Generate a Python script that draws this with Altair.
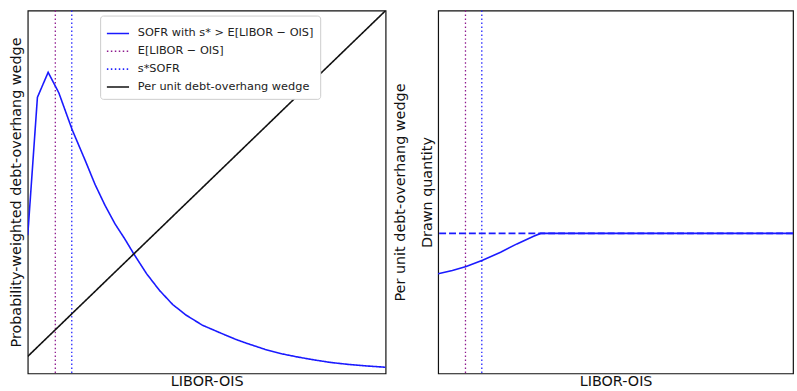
import altair as alt
import pandas as pd

# Normalised LIBOR-OIS grid (no tick labels are shown on either panel)
sofr_x = [0.0, 0.027, 0.057, 0.087, 0.124, 0.161, 0.188, 0.216, 0.244, 0.271,
          0.296, 0.332, 0.368, 0.405, 0.442, 0.488, 0.535, 0.581, 0.618, 0.664,
          0.710, 0.756, 0.802, 0.848, 0.895, 0.942, 1.0]
sofr_y = [0.381, 0.761, 0.830, 0.773, 0.672, 0.586, 0.521, 0.463, 0.412, 0.371,
          0.330, 0.275, 0.229, 0.190, 0.161, 0.133, 0.113, 0.094, 0.081, 0.066,
          0.054, 0.045, 0.037, 0.030, 0.025, 0.021, 0.017]

wedge_x = [0.0, 1.0]
wedge_y = [0.047, 1.0]

expected_spread = 0.077   # E[LIBOR - OIS]
s_star_sofr = 0.123       # s*_SOFR

drawn_x = [0.0, 0.040, 0.079, 0.125, 0.176, 0.222, 0.269, 0.289, 1.0]
drawn_y = [0.275, 0.284, 0.295, 0.312, 0.334, 0.357, 0.378, 0.386, 0.386]
drawn_cap = 0.386

LAB_SOFR = "SOFR with s* > E[LIBOR − OIS]"
LAB_E = "E[LIBOR − OIS]"
LAB_S = "s*SOFR"
LAB_W = "Per unit debt-overhang wedge"

series_order = [LAB_SOFR, LAB_E, LAB_S, LAB_W]
series_colors = ["#1a1aff", "#8e1a8e", "#2424ff", "#111111"]
series_dash = [[1, 0], [1.5, 2.5], [1.5, 2.5], [1, 0]]

W_LEFT, W_RIGHT, H = 361, 358, 366
FONT = "DejaVu Sans"

x_enc = alt.X("x:Q", scale=alt.Scale(domain=[0, 1], nice=False, zero=False),
              axis=alt.Axis(title="LIBOR-OIS", labels=False, ticks=False,
                            grid=False, domain=False, titlePadding=1))

color_scale = alt.Scale(domain=series_order, range=series_colors)
dash_scale = alt.Scale(domain=series_order, range=series_dash)

legend = alt.Legend(title=None, orient="none", legendX=73, legendY=5,
                    symbolType="stroke", symbolSize=500, symbolStrokeWidth=1.6,
                    labelFont=FONT, labelFontSize=11.4, labelColor="#222222",
                    fillColor="white", strokeColor="#cccccc", cornerRadius=3,
                    padding=6, rowPadding=0, labelOffset=8, labelLimit=300)

left_lines = pd.concat([
    pd.DataFrame({"x": sofr_x, "y": sofr_y, "series": LAB_SOFR}),
    pd.DataFrame({"x": wedge_x, "y": wedge_y, "series": LAB_W}),
])
left_vlines = pd.DataFrame({"x": [expected_spread, s_star_sofr], "series": [LAB_E, LAB_S]})

y_left = alt.Y("y:Q", scale=alt.Scale(domain=[0, 1], nice=False, zero=False),
               axis=alt.Axis(title="Probability-weighted debt-overhang wedge",
                             labels=False, ticks=False, grid=False, domain=False,
                             titlePadding=4))

left_curves = alt.Chart(left_lines).mark_line(strokeWidth=1.6, clip=True).encode(
    x=x_enc, y=y_left,
    color=alt.Color("series:N", scale=color_scale, legend=legend, sort=series_order),
    strokeDash=alt.StrokeDash("series:N", scale=dash_scale, legend=legend, sort=series_order),
    detail="series:N",
)
left_rules = alt.Chart(left_vlines).mark_rule(strokeWidth=1.3).encode(
    x="x:Q",
    color=alt.Color("series:N", scale=color_scale, legend=legend, sort=series_order),
    strokeDash=alt.StrokeDash("series:N", scale=dash_scale, legend=legend, sort=series_order),
)
left = alt.layer(left_rules, left_curves).properties(width=W_LEFT, height=H)

# Right panel: drawn quantity against LIBOR-OIS
right_curve_df = pd.DataFrame({"x": drawn_x, "y": drawn_y})
right_cap_df = pd.DataFrame({"y": [drawn_cap]})
right_vlines = pd.DataFrame({"x": [expected_spread, s_star_sofr], "c": ["#8e1a8e", "#2424ff"]})

y_right = alt.Y("y:Q", scale=alt.Scale(domain=[0, 1], nice=False, zero=False),
                axis=alt.Axis(title=["Per unit debt-overhang wedge", "Drawn quantity"],
                              labels=False, ticks=False, grid=False, domain=False,
                              titlePadding=4, titleLineHeight=27))

right_rules = alt.Chart(right_vlines).mark_rule(strokeWidth=1.3, strokeDash=[1.5, 2.5]).encode(
    x=alt.X("x:Q", scale=alt.Scale(domain=[0, 1], nice=False, zero=False)),
    color=alt.Color("c:N", scale=None),
)
right_cap = alt.Chart(right_cap_df).mark_rule(strokeWidth=1.6, strokeDash=[7, 3],
                                               color="#1a1aff").encode(y=y_right)
right_curve = alt.Chart(right_curve_df).mark_line(strokeWidth=1.6, color="#1a1aff").encode(
    x=x_enc, y=y_right)
right = alt.layer(right_rules, right_cap, right_curve).properties(width=W_RIGHT, height=H)

chart = alt.hconcat(left, right, spacing=5).resolve_scale(
    color="independent", strokeDash="independent", y="independent"
).properties(
    padding={"left": 8, "top": 7, "right": 0, "bottom": 0},
    background="white",
).configure_view(
    stroke="#111111", strokeWidth=1.2
).configure_axis(
    titleFont=FONT, titleFontSize=14.5, titleFontWeight="normal", titleColor="#111111"
)

chart.save("out.html", embed_options={"renderer": "svg", "actions": False})
